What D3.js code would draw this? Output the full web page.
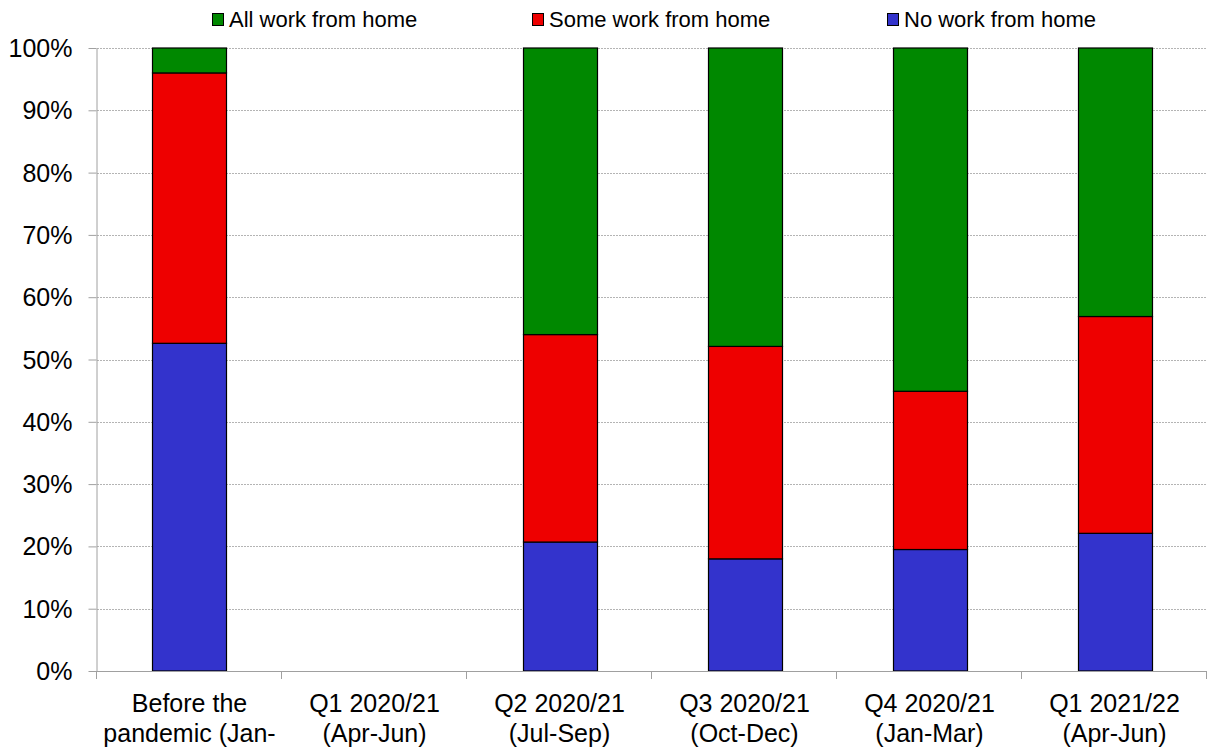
<!DOCTYPE html>
<html>
<head>
<meta charset="utf-8">
<script src="https://cdn.jsdelivr.net/npm/d3@7"></script>
<style>
  html, body { margin: 0; padding: 0; background: #fff; }
  svg { display: block; font-family: Arial, "Liberation Sans", sans-serif; }
</style>
</head>
<body>
<svg id="chart" width="1207" height="751"></svg>
<script>
// Categories (each label split into its text lines)
const categories = [
  ["Before the", "pandemic (Jan-"],
  ["Q1 2020/21", "(Apr-Jun)"],
  ["Q2 2020/21", "(Jul-Sep)"],
  ["Q3 2020/21", "(Oct-Dec)"],
  ["Q4 2020/21", "(Jan-Mar)"],
  ["Q1 2021/22", "(Apr-Jun)"]
];
const seriesNames = ["No work from home", "Some work from home", "All work from home"];
// Shares in percent, null where no data was collected
const noWork   = [52.6, null, 20.7, 18.0, 19.5, 22.1];
const someWork = [43.4, null, 33.3, 34.1, 25.4, 34.8];
const allWork  = [4.0,  null, 46.0, 47.9, 55.1, 43.1];
const yTicks = [0, 10, 20, 30, 40, 50, 60, 70, 80, 90, 100];
const legendOrder = ["All work from home", "Some work from home", "No work from home"];
const colors = {
  "No work from home": "#3333cc",
  "Some work from home": "#ee0000",
  "All work from home": "#008800"
};

const svg = d3.select("#chart");
const margin = { left: 97, right: 0, top: 48, bottom: 80 };
const W = 1207, H = 751;
const plotBottom = 671;
const labelFont = "Arial, 'Liberation Sans', sans-serif";

const x = d3.scaleBand()
  .domain(d3.range(categories.length))
  .range([margin.left, W - margin.right])
  .paddingInner(0.6)
  .paddingOuter(0.3);
const xOuter = d3.scaleBand()
  .domain(d3.range(categories.length))
  .range([margin.left, W - margin.right]);
const y = d3.scaleLinear().domain([0, 100]).range([plotBottom, margin.top]);

// Horizontal dotted gridlines
svg.append("g")
  .selectAll("line")
  .data(yTicks.filter(d => d > 0))
  .join("line")
  .attr("x1", margin.left).attr("x2", W)
  .attr("y1", d => Math.round(y(d)) + 0.5).attr("y2", d => Math.round(y(d)) + 0.5)
  .attr("stroke", "#b4b4b4")
  .attr("stroke-width", 1)
  .attr("stroke-dasharray", "2,1");

// Stacked bars
const rows = categories.map((c, i) => ({
  i,
  "No work from home": noWork[i],
  "Some work from home": someWork[i],
  "All work from home": allWork[i]
})).filter(r => r["No work from home"] != null);

const stacked = d3.stack().keys(seriesNames)(rows);

svg.append("g")
  .selectAll("g")
  .data(stacked)
  .join("g")
  .attr("fill", d => colors[d.key])
  .selectAll("rect")
  .data(d => d)
  .join("rect")
  .attr("x", d => Math.round(x(d.data.i)) + 0.5)
  .attr("width", Math.round(x.bandwidth()))
  .attr("y", d => y(d[1]))
  .attr("height", d => y(d[0]) - y(d[1]))
  .attr("stroke", "#000")
  .attr("stroke-width", 1.2);

// Y axis
const yAxis = svg.append("g")
  .attr("transform", `translate(${margin.left - 0.5},0)`)
  .call(d3.axisLeft(y).tickValues(yTicks).tickFormat(d => d + "%").tickSize(8).tickSizeOuter(0));
yAxis.select(".domain").attr("stroke", "#a0a0a0");
yAxis.selectAll(".tick line").attr("stroke", "#a0a0a0");
yAxis.selectAll(".tick text")
  .attr("x", -24)
  .attr("dy", "0.34em")
  .attr("font-size", 25)
  .attr("font-family", labelFont)
  .attr("fill", "#000");

// X axis baseline and category separators
const xg = svg.append("g");
xg.append("line")
  .attr("x1", margin.left - 8).attr("x2", W)
  .attr("y1", plotBottom + 0.5).attr("y2", plotBottom + 0.5)
  .attr("stroke", "#a0a0a0");
xg.selectAll("line.sep")
  .data(d3.range(categories.length + 1))
  .join("line")
  .attr("class", "sep")
  .attr("x1", d => Math.round(margin.left + d * xOuter.step()) - 0.5)
  .attr("x2", d => Math.round(margin.left + d * xOuter.step()) - 0.5)
  .attr("y1", plotBottom).attr("y2", plotBottom + 8)
  .attr("stroke", "#a0a0a0");

// Category labels
const labels = xg.selectAll("text.cat")
  .data(categories)
  .join("text")
  .attr("class", "cat")
  .attr("text-anchor", "middle")
  .attr("font-size", 25)
  .attr("font-family", labelFont)
  .attr("fill", "#000")
  .attr("transform", (d, i) => `translate(${xOuter(i) + xOuter.bandwidth() / 2},${plotBottom})`);
labels.selectAll("tspan")
  .data(d => d)
  .join("tspan")
  .attr("x", 0)
  .attr("y", (d, j) => 41 + j * 30)
  .text(d => d);

// Legend
const legendX = [212, 532, 887];
const lg = svg.append("g")
  .selectAll("g")
  .data(legendOrder)
  .join("g")
  .attr("transform", (d, i) => `translate(${legendX[i]},13)`);
lg.append("rect")
  .attr("x", 0.5).attr("y", 0.5)
  .attr("width", 11).attr("height", 12)
  .attr("fill", d => colors[d])
  .attr("stroke", "#000")
  .attr("stroke-width", 1);
lg.append("text")
  .attr("x", 17).attr("y", 14)
  .attr("font-size", 22)
  .attr("font-family", labelFont)
  .attr("fill", "#000")
  .text(d => d);
</script>
</body>
</html>
